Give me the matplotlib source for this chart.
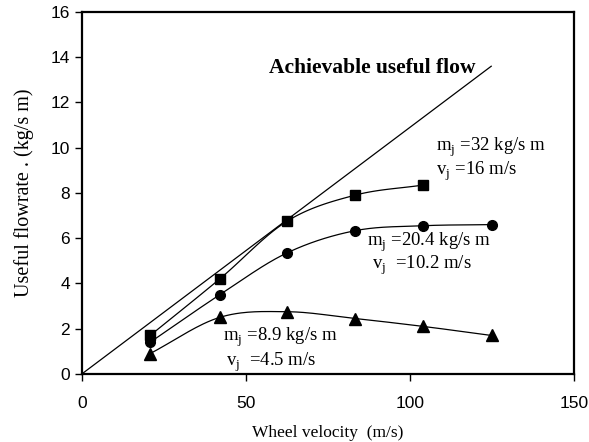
import numpy as np
import matplotlib
matplotlib.use("Agg")
import matplotlib.pyplot as plt

# data
v_sq = [20.8, 42, 62.5, 83.2, 104]
q_sq = [1.7, 4.2, 6.75, 7.9, 8.35]

v_ci = [20.8, 42, 62.5, 83.2, 104, 124.8]
q_ci = [1.4, 3.5, 5.35, 6.33, 6.55, 6.6]

v_tr = [20.8, 42, 62.5, 83.2, 104, 124.8]
q_tr = [0.9, 2.5, 2.75, 2.45, 2.1, 1.7]

v_lim = [0, 124.7]
q_lim = [0, 13.6]


def smooth(x, y, n=30):
    # Catmull-Rom curve through the points (like Excel smoothed lines)
    x = np.asarray(x, float)
    y = np.asarray(y, float)
    px = np.concatenate([[2 * x[0] - x[1]], x, [2 * x[-1] - x[-2]]])
    py = np.concatenate([[2 * y[0] - y[1]], y, [2 * y[-1] - y[-2]]])
    xs, ys = [], []
    t = np.linspace(0, 1, n)
    for i in range(1, len(px) - 2):
        for p, out in ((px, xs), (py, ys)):
            p0, p1, p2, p3 = p[i - 1], p[i], p[i + 1], p[i + 2]
            out.extend(0.5 * ((2 * p1) + (-p0 + p2) * t
                              + (2 * p0 - 5 * p1 + 4 * p2 - p3) * t ** 2
                              + (-p0 + 3 * p1 - 3 * p2 + p3) * t ** 3))
    return xs, ys


serif = ['Liberation Serif', 'DejaVu Serif']
fig = plt.figure(figsize=(5.89, 4.42), dpi=100)
ax = fig.add_axes([0.139, 0.154, 0.836, 0.819])

ax.plot(v_lim, q_lim, color='black', lw=0.9)
for vx, qy, m, ms in ((v_sq, q_sq, 's', 7), (v_ci, q_ci, 'o', 7), (v_tr, q_tr, '^', 8)):
    sx, sy = smooth(vx, qy)
    ax.plot(sx, sy, color='black', lw=0.9)
    ax.plot(vx, qy, m, color='black', ms=ms, ls='none')

fs = 13.5
ax.text(57, 13.5, 'Achievable useful flow', fontsize=15.5, fontweight='bold',
        family=serif, va='center')
ax.text(108, 10.0, r'm$_\mathregular{j}$ =32 kg/s m', fontsize=fs, family=serif, va='center')
ax.text(108, 8.95, r'v$_\mathregular{j}$ =16 m/s', fontsize=fs, family=serif, va='center')
ax.text(87, 5.8, r'm$_\mathregular{j}$ =20.4 kg/s m', fontsize=fs, family=serif, va='center')
ax.text(88.5, 4.8, r'v$_\mathregular{j}$  =10.2 m/s', fontsize=fs, family=serif, va='center')
ax.text(43, 1.62, r'm$_\mathregular{j}$ =8.9 kg/s m', fontsize=fs, family=serif, va='center')
ax.text(44, 0.5, r'v$_\mathregular{j}$  =4.5 m/s', fontsize=fs, family=serif, va='center')

ax.set_xlim(0, 150)
ax.set_ylim(0, 16)
ax.set_xticks([0, 50, 100, 150])
ax.set_yticks(range(0, 17, 2))
for s in ax.spines.values():
    s.set_linewidth(1.6)
ax.tick_params(direction='out', length=5, width=1, labelsize=12.5)
ax.tick_params(axis='x', pad=11)
for lab in ax.get_xticklabels() + ax.get_yticklabels():
    lab.set_family('Liberation Sans')

ax.set_xlabel('Wheel velocity  (m/s)', fontsize=12.5, family=serif, labelpad=10)
ax.set_ylabel('Useful flowrate . (kg/s m)', fontsize=14.5, family=serif, labelpad=12)

fig.savefig('out.png', dpi=100)
